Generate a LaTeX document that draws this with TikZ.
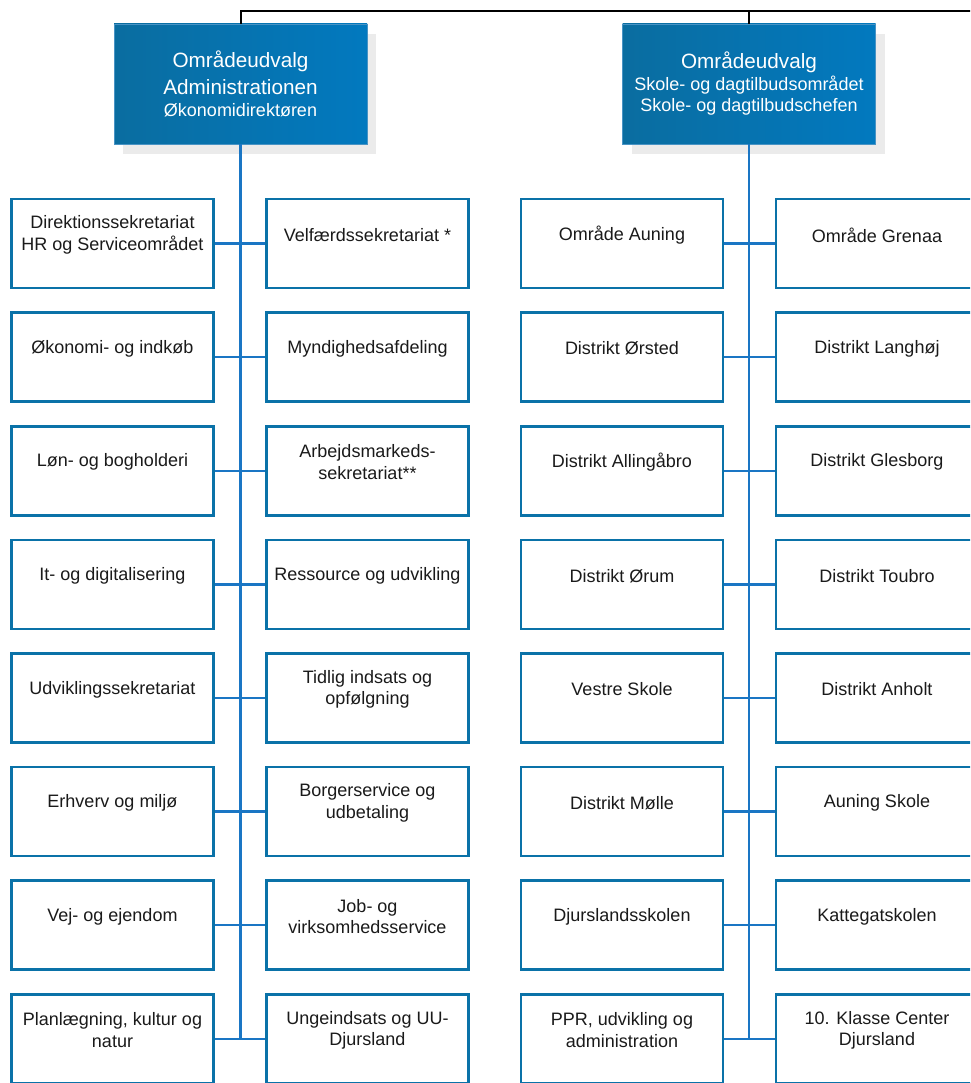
\documentclass[tikz,border=0pt]{standalone}
\usepackage{fontspec}
\setmainfont{Liberation Sans}
\usetikzlibrary{positioning,shadows}
\definecolor{unitblue}{HTML}{0A72A8}
\definecolor{linkblue}{HTML}{1A76C4}
\definecolor{headleft}{HTML}{0A6DA0}
\definecolor{headright}{HTML}{0279BF}
\definecolor{headedge}{HTML}{4893C4}
\definecolor{shadowgrey}{HTML}{EBEBEB}
\definecolor{unittext}{HTML}{1A1A1A}
\newcommand{\headbig}[1]{{\fontsize{20.7}{25}\selectfont #1}}
\tikzset{
  headbox/.style={draw=headedge, line width=0.8pt, left color=headleft, right color=headright,
    minimum width=253pt, minimum height=120pt, align=center, text=white,
    font=\fontsize{18}{21.5}\selectfont,
    drop shadow={shadow xshift=9pt, shadow yshift=-10pt, fill=shadowgrey, opacity=1}},
  unitbox/.style={draw=unitblue, line width=2.6pt, fill=white,
    minimum width=202pt, minimum height=89pt},
  unitlabel/.style={align=center, text=unittext, yshift=8.5pt,
    font=\fontsize{18}{21.5}\selectfont},
  unit/.style={unitbox, label={[unitlabel]center:#1}},
  link/.style={draw=linkblue, line width=2.4pt},
  topline/.style={draw=black, line width=2pt}
}

\begin{document}
\begin{tikzpicture}[x=1pt, y=-1pt, on grid, node distance=113.6pt and 255pt]
    \useasboundingbox (0,0) rectangle (970,1083);
    \clip (0,0) rectangle (970,1083);
    % area committees
    \node[headbox] (adm) at (240.5,84) {\headbig{Områdeudvalg}\\[5.5pt]\headbig{Administrationen}\\Økonomidirektøren};
    \node[headbox, right=508.5pt of adm] (sko) {\headbig{Områdeudvalg}\\Skole- og dagtilbudsområdet\\Skole- og dagtilbudschefen};
    \coordinate (busend) at (975,11);
    \draw[topline] (adm.north) |- (busend);
    \draw[topline] (sko.north) -- (sko.north |- busend);

    % administrationen
    \node[unit={Direktionssekretariat\\HR og Serviceområdet}, below left=159.5pt and 128pt of adm] (al1) {};
    \node[unit={Økonomi- og indkøb}, below=of al1] (al2) {};
    \node[unit={Løn- og bogholderi}, below=of al2] (al3) {};
    \node[unit={It- og digitalisering}, below=of al3] (al4) {};
    \node[unit={Udviklingssekretariat}, below=of al4] (al5) {};
    \node[unit={Erhverv og miljø}, below=of al5] (al6) {};
    \node[unit={Vej- og ejendom}, below=of al6] (al7) {};
    \node[unit={Planlægning, kultur og\\natur}, below=of al7] (al8) {};

    \node[unit={Velfærdssekretariat *}, right=of al1] (ar1) {};
    \node[unit={Myndighedsafdeling}, below=of ar1] (ar2) {};
    \node[unit={Arbejdsmarkeds-\\sekretariat**}, below=of ar2] (ar3) {};
    \node[unit={Ressource og udvikling}, below=of ar3] (ar4) {};
    \node[unit={Tidlig indsats og\\opfølgning}, below=of ar4] (ar5) {};
    \node[unit={Borgerservice og\\udbetaling}, below=of ar5] (ar6) {};
    \node[unit={Job- og\\virksomhedsservice}, below=of ar6] (ar7) {};
    \node[unit={Ungeindsats og UU-\\Djursland}, below=of ar7] (ar8) {};

    % skole og dagtilbud
    \node[unit={Område Auning}, below left=159.5pt and 127pt of sko] (sl1) {};
    \node[unit={Distrikt Ørsted}, below=of sl1] (sl2) {};
    \node[unit={Distrikt Allingåbro}, below=of sl2] (sl3) {};
    \node[unit={Distrikt Ørum}, below=of sl3] (sl4) {};
    \node[unit={Vestre Skole}, below=of sl4] (sl5) {};
    \node[unit={Distrikt Mølle}, below=of sl5] (sl6) {};
    \node[unit={Djurslandsskolen}, below=of sl6] (sl7) {};
    \node[unit={PPR, udvikling og\\administration}, below=of sl7] (sl8) {};

    \node[unit={Område Grenaa}, right=of sl1] (sr1) {};
    \node[unit={Distrikt Langhøj}, below=of sr1] (sr2) {};
    \node[unit={Distrikt Glesborg}, below=of sr2] (sr3) {};
    \node[unit={Distrikt Toubro}, below=of sr3] (sr4) {};
    \node[unit={Distrikt Anholt}, below=of sr4] (sr5) {};
    \node[unit={Auning Skole}, below=of sr5] (sr6) {};
    \node[unit={Kattegatskolen}, below=of sr6] (sr7) {};
    \node[unit={10. Klasse Center\\Djursland}, below=of sr7] (sr8) {};

    % connectors
    \draw[link] (adm.south) -- (adm.south |- al8.east);
    \draw[link] (sko.south) -- (sko.south |- sl8.east);
    \foreach \i in {1,...,8} {
      \draw[link] (al\i.east) -- (ar\i.west);
      \draw[link] (sl\i.east) -- (sr\i.west);
    }
  \end{tikzpicture}
\end{document}
